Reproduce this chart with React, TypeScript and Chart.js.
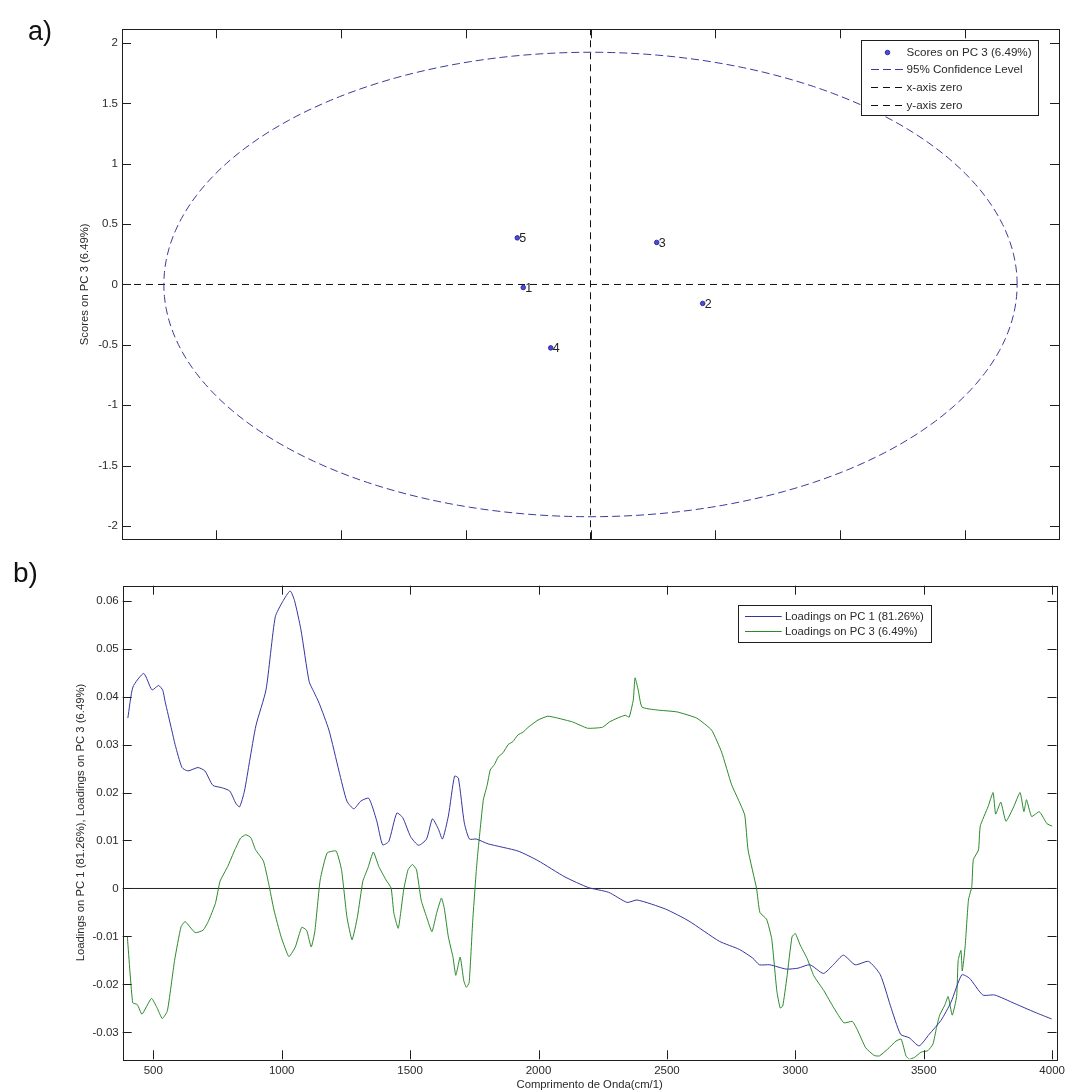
import React, { useEffect, useRef } from 'react';
import { Chart, registerables } from 'chart.js';

Chart.register(...registerables);

const FONT = "'Liberation Sans', Arial, Helvetica, sans-serif";
const TEXT_COLOR = '#2a2a2a';

// ---------- Panel a: scores ----------
const SAMPLE_LABELS = ['1', '2', '3', '4', '5'];
const SCORES_PC1 = [-1.076, 1.796, 1.06, -0.637, -1.172];
const SCORES_PC3 = [-0.025, -0.157, 0.348, -0.525, 0.386];
const CONF_RX = 6.83;
const CONF_RY = 1.923;
const A_X_LIMITS = [-7.5, 7.5];
const A_Y_LIMITS = [-2.11, 2.113];
const A_X_TICKS = [-6, -4, -2, 0, 2, 4, 6];
const A_Y_TICKS = [-2, -1.5, -1, -0.5, 0, 0.5, 1, 1.5, 2];
const A_LEGEND = ['Scores on PC 3 (6.49%)', '95% Confidence Level', 'x-axis zero', 'y-axis zero'];

// ---------- Panel b: loadings ----------
const B_X_LIMITS = [381, 4017];
const B_Y_LIMITS = [-0.0356, 0.0631];
const B_X_TICKS = [500, 1000, 1500, 2000, 2500, 3000, 3500, 4000];
const B_Y_TICKS = [-0.03, -0.02, -0.01, 0, 0.01, 0.02, 0.03, 0.04, 0.05, 0.06];
const B_LEGEND = ['Loadings on PC 1 (81.26%)', 'Loadings on PC 3 (6.49%)'];

const PC1_WAVENUMBER = [
  401, 421, 463, 495, 521, 537, 546, 572, 585, 612, 635, 674, 701, 732, 767, 798, 821, 836, 855, 875,
  900, 939, 975, 1004, 1033, 1050, 1075, 1107, 1125, 1146, 1184, 1223, 1254, 1281, 1308, 1339, 1370,
  1393, 1417, 1448, 1471, 1502, 1533, 1564, 1587, 1610, 1626, 1649, 1673, 1688, 1711, 1731, 1758,
  1804, 1920, 1998, 2103, 2194, 2273, 2345, 2384, 2495, 2586, 2704, 2782, 2834, 2860, 2900, 2965,
  3011, 3057, 3109, 3148, 3187, 3233, 3285, 3331, 3370, 3410, 3443, 3482, 3521, 3567, 3606, 3648,
  3678, 3730, 3776, 3855, 3933, 3998,
];
const PC1_LOADINGS = [
  0.0355, 0.042, 0.0448, 0.0414, 0.0423, 0.0413, 0.039, 0.033, 0.03, 0.0252, 0.0245, 0.0252, 0.0245,
  0.0215, 0.021, 0.0203, 0.0178, 0.017, 0.0203, 0.0265, 0.034, 0.0414, 0.0566, 0.0598, 0.062, 0.06,
  0.0539, 0.0431, 0.041, 0.0386, 0.033, 0.0245, 0.0182, 0.0166, 0.0182, 0.0188, 0.0141, 0.0091,
  0.0098, 0.0157, 0.0148, 0.0108, 0.009, 0.0103, 0.0145, 0.0124, 0.0103, 0.0151, 0.0234, 0.023,
  0.0137, 0.0103, 0.0103, 0.0093, 0.0078, 0.0058, 0.0024, 0.0002, -0.0008, -0.0029, -0.0024,
  -0.0043, -0.0068, -0.011, -0.0127, -0.0145, -0.0159, -0.0159, -0.0168, -0.0166, -0.0159,
  -0.0177, -0.0159, -0.0139, -0.0159, -0.0152, -0.018, -0.0244, -0.0304, -0.0311, -0.0328,
  -0.0304, -0.0275, -0.0237, -0.018, -0.0187, -0.0222, -0.0222, -0.024, -0.0258, -0.0272,
];

const PC3_WAVENUMBER = [
  399, 420, 438, 456, 493, 514, 535, 555, 583, 608, 624, 663, 694, 714, 742, 760, 790, 818, 840, 860,
  880, 898, 929, 949, 970, 998, 1028, 1053, 1078, 1097, 1115, 1129, 1150, 1177, 1212, 1233, 1254,
  1274, 1295, 1316, 1336, 1357, 1378, 1406, 1426, 1437, 1454, 1475, 1492, 1509, 1525, 1543, 1564,
  1585, 1603, 1622, 1633, 1649, 1667, 1678, 1695, 1709, 1719, 1730, 1744, 1758, 1765, 1785, 1800,
  1812, 1828, 1843, 1862, 1882, 1900, 1920, 1940, 1960, 1998, 2036, 2075, 2133, 2191, 2249, 2276,
  2307, 2338, 2353, 2369, 2376, 2388, 2403, 2461, 2539, 2616, 2674, 2713, 2752, 2779, 2803, 2816,
  2849, 2862, 2888, 2908, 2928, 2941, 2951, 2967, 2987, 3000, 3019, 3046, 3072, 3111, 3150, 3189,
  3222, 3241, 3274, 3307, 3327, 3359, 3392, 3412, 3431, 3444, 3464, 3490, 3516, 3536, 3549, 3562,
  3582, 3595, 3611, 3628, 3634, 3645, 3650, 3661, 3674, 3687, 3693, 3713, 3720, 3750, 3770, 3780,
  3800, 3820, 3850, 3875, 3890, 3900, 3920, 3950, 3980, 4000,
];
const PC3_LOADINGS = [
  -0.01, -0.0238, -0.0242, -0.0262, -0.0229, -0.0248, -0.0271, -0.0255, -0.015, -0.008, -0.0069,
  -0.0092, -0.0087, -0.0069, -0.0031, 0.0015, 0.0046, 0.0081, 0.0105, 0.0112, 0.0106, 0.0081,
  0.0057, 0.0011, -0.0045, -0.0101, -0.0142, -0.0122, -0.0081, -0.0087, -0.0122, -0.009, 0.0018,
  0.0074, 0.0078, 0.0039, -0.0059, -0.0107, -0.0059, 0.0015, 0.0043, 0.0076, 0.0046, 0.0018, 0.0001,
  -0.0052, -0.0083, -0.0003, 0.0039, 0.005, 0.0039, -0.0024, -0.0059, -0.009, -0.0052, -0.002,
  -0.0041, -0.0101, -0.0143, -0.0181, -0.0143, -0.0192, -0.0206, -0.0196, -0.0066, 0.0039, 0.0081,
  0.0184, 0.0215, 0.0247, 0.0258, 0.0274, 0.0283, 0.03, 0.0306, 0.032, 0.0326, 0.0336, 0.0351,
  0.0359, 0.0355, 0.0347, 0.0334, 0.0336, 0.0347, 0.0355, 0.0361, 0.0357, 0.0393, 0.0439, 0.0414,
  0.0378, 0.0372, 0.0368, 0.0355, 0.033, 0.0284, 0.0216, 0.0184, 0.0153, 0.008, 0.0, -0.005, -0.0064,
  -0.0105, -0.0214, -0.0249, -0.0245, -0.0186, -0.0101, -0.0094, -0.0118, -0.0146, -0.0182,
  -0.0213, -0.0249, -0.028, -0.0277, -0.0294, -0.0332, -0.0348, -0.0349, -0.0335, -0.0318,
  -0.0314, -0.0349, -0.0356, -0.0352, -0.0341, -0.0338, -0.0324, -0.0292, -0.0264, -0.0243,
  -0.0225, -0.0264, -0.0225, -0.015, -0.0129, -0.0172, -0.0122, -0.0024, 0.0004, 0.006, 0.008,
  0.013, 0.017, 0.02, 0.0155, 0.018, 0.014, 0.017, 0.02, 0.016, 0.0185, 0.015, 0.016, 0.0135, 0.013,
];

const BLUE = '#3535a0';
const GREEN = '#2a8a2a';
const DASH_BLUE = '#3a3a9a';

// 95% confidence ellipse (geometric construct from its read semi-axes)
const ELLIPSE_STEPS = 240;
function ellipsePoints() {
  const pts = [];
  for (let i = 0; i <= ELLIPSE_STEPS; i++) {
    const t = (i / ELLIPSE_STEPS) * 2 * Math.PI;
    pts.push({ x: CONF_RX * Math.cos(t), y: CONF_RY * Math.sin(t) });
  }
  return pts;
}

const boxTicksPlugin = {
  id: 'boxTicks',
  afterDraw(chart: any, _a: any, opts: any) {
    const { ctx, chartArea } = chart;
    const { left, right, top, bottom } = chartArea;
    const xs = chart.scales.x;
    const ys = chart.scales.y;
    const L = opts.len || 9;
    ctx.save();
    ctx.strokeStyle = '#1e1e1e';
    ctx.lineWidth = 1;
    ctx.beginPath();
    for (const t of xs.ticks) {
      const p = Math.round(xs.getPixelForValue(t.value)) + 0.5;
      ctx.moveTo(p, bottom);
      ctx.lineTo(p, bottom - L);
      ctx.moveTo(p, top);
      ctx.lineTo(p, top + L);
    }
    for (const t of ys.ticks) {
      const p = Math.round(ys.getPixelForValue(t.value)) + 0.5;
      ctx.moveTo(left, p);
      ctx.lineTo(left + L, p);
      ctx.moveTo(right, p);
      ctx.lineTo(right - L, p);
    }
    ctx.stroke();
    ctx.strokeRect(Math.round(left) + 0.5, Math.round(top) + 0.5, Math.round(right - left), Math.round(bottom - top));
    ctx.restore();
  },
};

const pointLabelPlugin = {
  id: 'pointLabels',
  afterDatasetsDraw(chart: any, _a: any, opts: any) {
    if (!opts || !opts.labels) return;
    const meta = chart.getDatasetMeta(0);
    const ctx = chart.ctx;
    ctx.save();
    ctx.font = `12.5px ${FONT}`;
    ctx.fillStyle = '#222';
    ctx.textAlign = 'left';
    ctx.textBaseline = 'middle';
    meta.data.forEach((el: any, i: number) => {
      ctx.fillText(opts.labels[i], el.x + 2, el.y + 1);
    });
    ctx.restore();
  },
};

const boxLegendPlugin = {
  id: 'boxLegend',
  afterDraw(chart: any, _a: any, opts: any) {
    if (!opts || !opts.items) return;
    const ctx = chart.ctx;
    const { x, y, w, h, rowStart, rowGap, sampleFrom, sampleTo, textX, fontSize } = opts;
    ctx.save();
    ctx.fillStyle = '#fff';
    ctx.fillRect(x, y, w, h);
    ctx.strokeStyle = '#1e1e1e';
    ctx.lineWidth = 1;
    ctx.strokeRect(Math.round(x) + 0.5, Math.round(y) + 0.5, Math.round(w), Math.round(h));
    ctx.font = `${fontSize}px ${FONT}`;
    ctx.textAlign = 'left';
    ctx.textBaseline = 'middle';
    opts.items.forEach((item: any, i: number) => {
      const ds = chart.data.datasets[item.dataset];
      const cy = Math.round(y + rowStart + i * rowGap) + 0.5;
      if (item.kind === 'point') {
        ctx.beginPath();
        ctx.arc(x + (sampleFrom + sampleTo) / 2, cy, ds.pointRadius, 0, Math.PI * 2);
        ctx.fillStyle = ds.pointBackgroundColor;
        ctx.fill();
        ctx.lineWidth = ds.pointBorderWidth;
        ctx.strokeStyle = ds.pointBorderColor;
        ctx.stroke();
      } else {
        ctx.beginPath();
        ctx.setLineDash(ds.borderDash || []);
        ctx.strokeStyle = ds.borderColor;
        ctx.lineWidth = 1;
        ctx.moveTo(x + sampleFrom, cy);
        ctx.lineTo(x + sampleTo, cy);
        ctx.stroke();
        ctx.setLineDash([]);
      }
      ctx.fillStyle = TEXT_COLOR;
      ctx.fillText(ds.label, x + textX, cy);
    });
    ctx.restore();
  },
};

const tickFont = { family: FONT, size: 11.5 };
const titleFont = { family: FONT, size: 11.3 };

function scoresConfig(): any {
  const pts = SCORES_PC1.map((v, i) => ({ x: v, y: SCORES_PC3[i] }));
  return {
    type: 'scatter',
    data: {
      datasets: [
        {
          label: A_LEGEND[0],
          data: pts,
          showLine: false,
          pointRadius: 2.3,
          pointBackgroundColor: '#4a4ae0',
          pointBorderColor: '#1c1c8c',
          pointBorderWidth: 0.8,
        },
        {
          label: A_LEGEND[1],
          data: ellipsePoints(),
          showLine: true,
          pointRadius: 0,
          borderColor: DASH_BLUE,
          borderWidth: 1,
          borderDash: [8, 4],
          tension: 0,
        },
        {
          label: A_LEGEND[2],
          data: [
            { x: A_X_LIMITS[0], y: 0 },
            { x: A_X_LIMITS[1], y: 0 },
          ],
          showLine: true,
          pointRadius: 0,
          borderColor: '#111',
          borderWidth: 1,
          borderDash: [7, 5],
        },
        {
          label: A_LEGEND[3],
          data: [
            { x: 0, y: A_Y_LIMITS[0] },
            { x: 0, y: A_Y_LIMITS[1] },
          ],
          showLine: true,
          pointRadius: 0,
          borderColor: '#111',
          borderWidth: 1,
          borderDash: [7, 5],
        },
      ],
    },
    options: {
      responsive: false,
      animation: false,
      devicePixelRatio: 1,
      layout: { padding: { top: 29.3, right: 11, bottom: 0, left: 0 } },
      plugins: {
        legend: { display: false },
        tooltip: { enabled: false },
        boxTicks: { len: 9 },
        pointLabels: { labels: SAMPLE_LABELS },
        boxLegend: {
          x: 861,
          y: 40,
          w: 177,
          h: 75,
          rowStart: 11.7,
          rowGap: 17.7,
          sampleFrom: 10,
          sampleTo: 43,
          textX: 45.5,
          fontSize: 11.6,
          items: [
            { dataset: 0, kind: 'point' },
            { dataset: 1, kind: 'line' },
            { dataset: 2, kind: 'line' },
            { dataset: 3, kind: 'line' },
          ],
        },
      },
      scales: {
        x: {
          type: 'linear',
          min: A_X_LIMITS[0],
          max: A_X_LIMITS[1],
          grid: { display: false, drawTicks: false },
          border: { display: false },
          ticks: { display: false },
          afterBuildTicks: (s: any) => {
            s.ticks = A_X_TICKS.map((v) => ({ value: v }));
          },
          afterFit: (s: any) => {
            s.height = 555 - 539.3;
          },
        },
        y: {
          type: 'linear',
          min: A_Y_LIMITS[0],
          max: A_Y_LIMITS[1],
          grid: { display: false, drawTicks: false },
          border: { display: false },
          ticks: {
            font: tickFont,
            color: TEXT_COLOR,
            padding: 4,
            autoSkip: false,
            callback: (v: any) => String(v),
          },
          afterBuildTicks: (s: any) => {
            s.ticks = A_Y_TICKS.map((v) => ({ value: v }));
          },
          afterFit: (s: any) => {
            s.width = 122;
          },
          title: {
            display: true,
            text: 'Scores on PC 3 (6.49%)',
            font: titleFont,
            color: TEXT_COLOR,
            padding: { top: 78.2, bottom: 0 },
          },
        },
      },
    },
    plugins: [boxTicksPlugin, pointLabelPlugin, boxLegendPlugin],
  };
}

function loadingsConfig(): any {
  const pc1 = PC1_WAVENUMBER.map((x, i) => ({ x, y: PC1_LOADINGS[i] }));
  const pc3 = PC3_WAVENUMBER.map((x, i) => ({ x, y: PC3_LOADINGS[i] }));
  return {
    type: 'line',
    data: {
      datasets: [
        {
          label: B_LEGEND[0],
          data: pc1,
          borderColor: BLUE,
          borderWidth: 1,
          pointRadius: 0,
          tension: 0.2,
        },
        {
          label: B_LEGEND[1],
          data: pc3,
          borderColor: GREEN,
          borderWidth: 1,
          pointRadius: 0,
          tension: 0.15,
        },
        {
          label: 'zero',
          data: [
            { x: B_X_LIMITS[0], y: 0 },
            { x: B_X_LIMITS[1], y: 0 },
          ],
          borderColor: '#222',
          borderWidth: 1,
          pointRadius: 0,
        },
      ],
    },
    options: {
      responsive: false,
      animation: false,
      devicePixelRatio: 1,
      layout: { padding: { top: 30.7, right: 9, bottom: 0, left: 0 } },
      plugins: {
        legend: { display: false },
        tooltip: { enabled: false },
        boxTicks: { len: 9 },
        boxLegend: {
          x: 738.3,
          y: 50,
          w: 192.7,
          h: 36.7,
          rowStart: 11.3,
          rowGap: 14.7,
          sampleFrom: 6.7,
          sampleTo: 43.4,
          textX: 46.7,
          fontSize: 11.3,
          items: [
            { dataset: 0, kind: 'line' },
            { dataset: 1, kind: 'line' },
          ],
        },
      },
      scales: {
        x: {
          type: 'linear',
          min: B_X_LIMITS[0],
          max: B_X_LIMITS[1],
          grid: { display: false, drawTicks: false },
          border: { display: false },
          ticks: {
            font: tickFont,
            color: TEXT_COLOR,
            padding: 5,
            autoSkip: false,
            maxRotation: 0,
            callback: (v: any) => String(v),
          },
          afterBuildTicks: (s: any) => {
            s.ticks = B_X_TICKS.map((v) => ({ value: v }));
          },
          afterFit: (s: any) => {
            s.height = 537 - 504.3;
          },
          title: {
            display: true,
            text: 'Comprimento de Onda(cm/1)',
            font: titleFont,
            color: TEXT_COLOR,
            padding: { top: 0, bottom: 0.2 },
          },
        },
        y: {
          type: 'linear',
          min: B_Y_LIMITS[0],
          max: B_Y_LIMITS[1],
          grid: { display: false, drawTicks: false },
          border: { display: false },
          ticks: {
            font: tickFont,
            color: TEXT_COLOR,
            padding: 4,
            autoSkip: false,
            callback: (v: any) => String(v),
          },
          afterBuildTicks: (s: any) => {
            s.ticks = B_Y_TICKS.map((v) => ({ value: v }));
          },
          afterFit: (s: any) => {
            s.width = 122.7;
          },
          title: {
            display: true,
            text: 'Loadings on PC 1 (81.26%), Loadings on PC 3 (6.49%)',
            font: titleFont,
            color: TEXT_COLOR,
            padding: { top: 74.2, bottom: 0 },
          },
        },
      },
    },
    plugins: [boxTicksPlugin, boxLegendPlugin],
  };
}

function ChartCanvas({ make, top, height }: { make: () => any; top: number; height: number }) {
  const ref = useRef<HTMLCanvasElement | null>(null);
  useEffect(() => {
    const chart = new Chart(ref.current as HTMLCanvasElement, make());
    return () => chart.destroy();
  }, []);
  return (
    <canvas
      ref={ref}
      width={1070}
      height={height}
      style={{ position: 'absolute', left: 0, top, width: 1070, height, display: 'block' }}
    />
  );
}

export default function App() {
  return (
    <div style={{ position: 'absolute', left: 0, top: 0, width: 1070, height: 1092, background: '#fff', overflow: 'hidden' }}>
      <ChartCanvas make={scoresConfig} top={0} height={555} />
      <ChartCanvas make={loadingsConfig} top={555} height={537} />
      <div style={{ position: 'absolute', left: 28, top: 18, font: `27px ${FONT}`, lineHeight: '27px', color: '#111' }}>a)</div>
      <div style={{ position: 'absolute', left: 13, top: 559, font: `28px ${FONT}`, lineHeight: '28px', color: '#111' }}>b)</div>
    </div>
  );
}
